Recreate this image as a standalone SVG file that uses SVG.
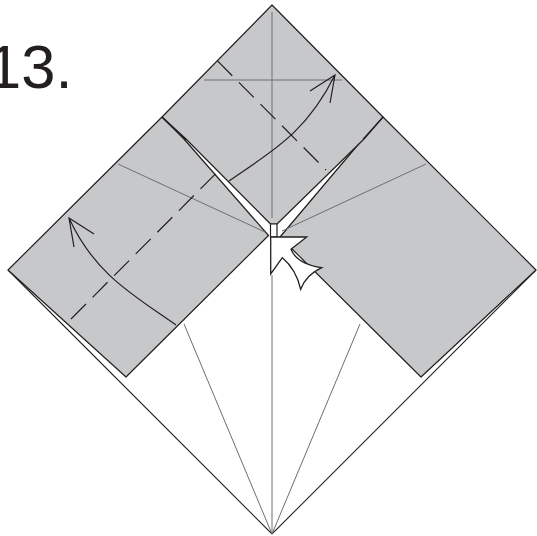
<svg xmlns="http://www.w3.org/2000/svg" width="537" height="536" viewBox="0 0 537 536">
<style>
.edge{fill:none;stroke:#231f20;stroke-width:1.1}
.panel{fill:#c7c8ca;stroke:#231f20;stroke-width:1.2;stroke-linejoin:round}
.crease{fill:none;stroke:#6d6e71;stroke-width:1}
.fold{fill:none;stroke:#231f20;stroke-width:1.2;stroke-dasharray:21.2 9.4}
.arrow{fill:none;stroke:#231f20;stroke-width:1.2}
</style>
<rect width="537" height="536" fill="#fff"/>
<text x="-13" y="88" font-family="'Liberation Sans',Arial,sans-serif" font-size="61.5" fill="#231f20">13.</text>
<g id="base">
<path class="edge" d="M8 270L272 534L536 270"/>
<path class="crease" d="M272 275V534M184 324L272 534M360 324L272 534"/>
</g>
<g id="left-panel">
<path class="panel" d="M162 117L8 270L126 377L268.500 235.500L184 139Z"/>
<path class="crease" d="M118 164L265 232"/>
</g>
<g id="right-panel">
<path class="panel" d="M383 117L536 270L421 377L280 237L362 140Z"/>
<path class="crease" d="M426 164L282 231"/>
</g>
<g id="top-panel">
<path class="panel" d="M272 5L383 117L364 139L277 224H270.500L186 139L162 117Z"/>
<path class="edge" stroke-width="1.800" d="M162 117L186 140M383 117L363 139"/>
<path fill="#fff" stroke="#231f20" stroke-width="1.200" d="M270.500 224V237H277V224Z"/>
<path class="crease" d="M272 12V218M204 80H342"/>
</g>
<g id="folds">
<path class="fold" d="M217.300 60.700L326 170"/>
<path class="fold" d="M71 319L216 173.300"/>
</g>
<g id="connectors">
<path class="arrow" d="M176 325C135 296 95 275 69 218M74 247L69 218L94 234"/>
<path class="arrow" d="M229 181C270 152 305 135 335 75M310 91L335 75L330 103"/>
</g>
<g id="push-arrow">
<path fill="#fff" stroke="#231f20" stroke-width="1.300" stroke-linejoin="miter" d="M270.700 237L306.700 237L291 249.300Q297 264 321.700 267.700Q306 275 300.700 289.300Q296 269 282.300 257.700L270.700 274Z"/>
</g>
</svg>
